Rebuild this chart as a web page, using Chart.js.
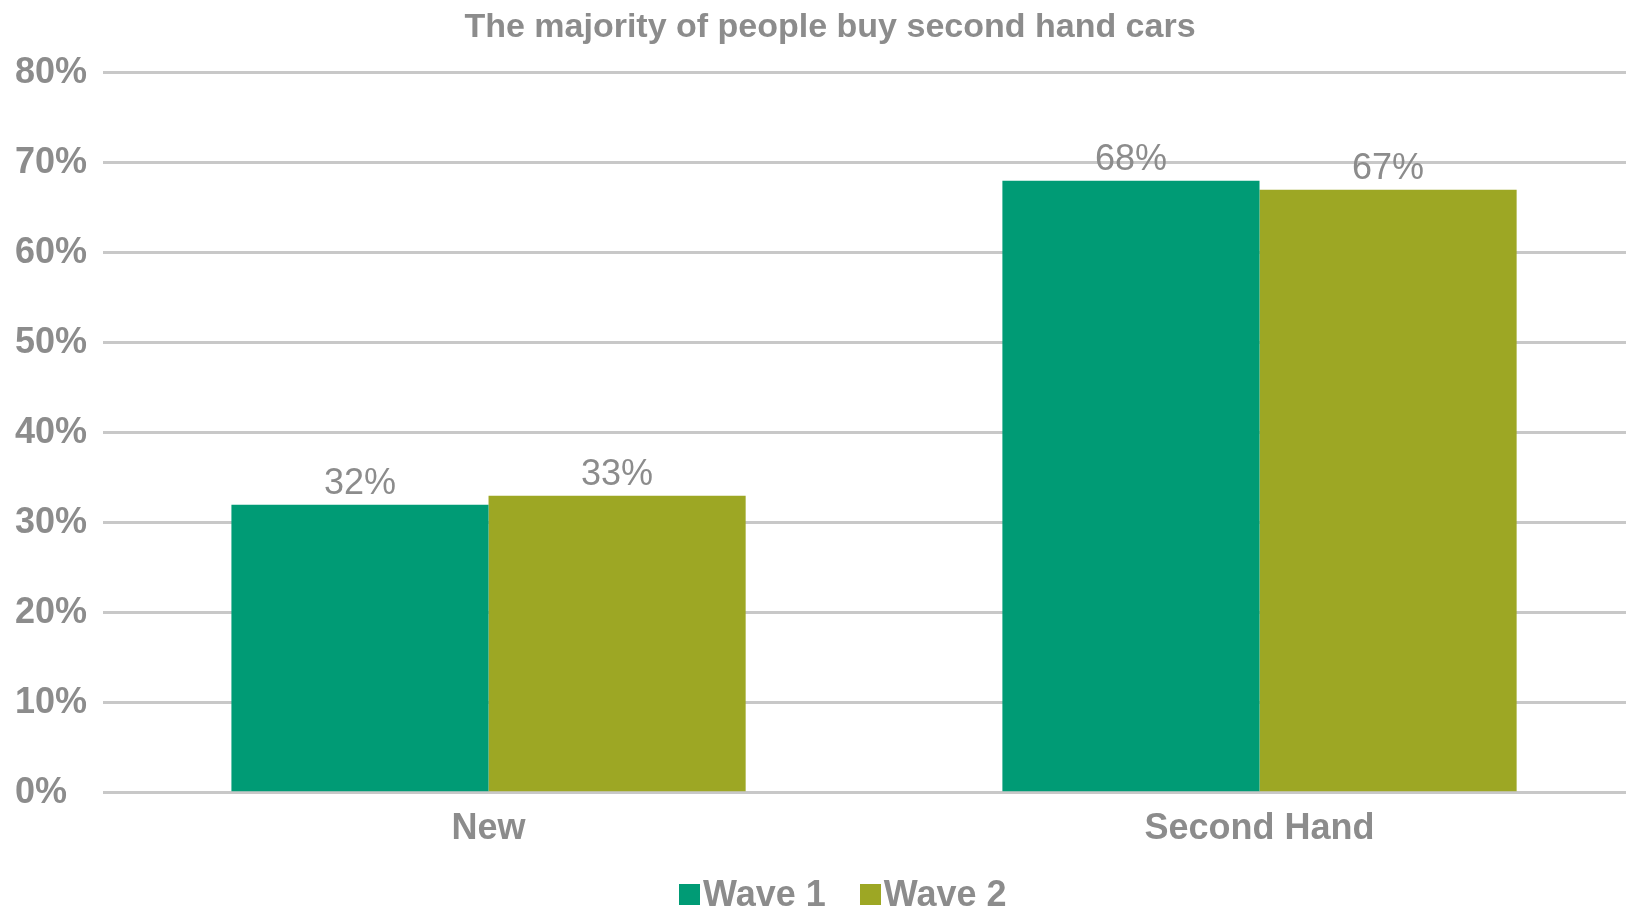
<!DOCTYPE html>
<html>
<head>
<meta charset="utf-8">
<script src="https://cdn.jsdelivr.net/npm/chart.js@4.4.1/dist/chart.umd.min.js"></script>
<style>
  html, body { margin: 0; padding: 0; background: #fff; overflow: hidden; }
  #wrap { position: relative; width: 1645px; height: 914px; }
  #legend {
    position: absolute; left: 679px; top: 872px; height: 44px;
    display: flex; align-items: center;
    font: bold 36px "Liberation Sans", Arial, sans-serif; color: #8c8c8c;
  }
  #legend .item { display: flex; align-items: center; margin-right: 34px; }
  #legend .box { width: 21px; height: 21px; margin-right: 3px; }
</style>
</head>
<body>
<div id="wrap">
  <canvas id="chart" width="1645" height="914"></canvas>
  <div id="legend"></div>
</div>
<script>
// Data
const categories = ['New', 'Second Hand'];
const wave1 = [32, 68];
const wave2 = [33, 67];
const seriesNames = ['Wave 1', 'Wave 2'];
const yTicks = [0, 10, 20, 30, 40, 50, 60, 70, 80];

const GREEN = '#009b75';
const OLIVE = '#9da724';
const TEXT = '#8c8c8c';
const FONT = 'Liberation Sans, Arial, sans-serif';

// draws the % value above each bar
const valueLabels = {
    id: 'valueLabels',
    afterDatasetsDraw(chart) {
        const ctx = chart.ctx;
        ctx.save();
        ctx.fillStyle = TEXT;
        ctx.font = '36px ' + FONT;
        ctx.textAlign = 'center';
        ctx.textBaseline = 'bottom';
        chart.data.datasets.forEach((ds, i) => {
            chart.getDatasetMeta(i).data.forEach((bar, j) => {
                ctx.fillText(ds.data[j] + '%', bar.x, bar.y - 3);
            });
        });
        ctx.restore();
    }
};

const chart = new Chart(document.getElementById('chart'), {
    type: 'bar',
    data: {
        labels: categories,
        datasets: [
            { label: seriesNames[0], data: wave1, backgroundColor: GREEN },
            { label: seriesNames[1], data: wave2, backgroundColor: OLIVE }
        ]
    },
    options: {
        responsive: false,
        animation: false,
        layout: { padding: { left: 15, right: 0, top: 0, bottom: 56 } },
        datasets: { bar: { categoryPercentage: 0.667, barPercentage: 1.0 } },
        plugins: {
            title: {
                display: true,
                text: 'The majority of people buy second hand cars',
                color: TEXT,
                font: { family: FONT, size: 34, weight: 'bold' },
                padding: { top: 7, bottom: 25 }
            },
            legend: { display: false },
            tooltip: { enabled: false }
        },
        scales: {
            x: {
                grid: { display: false },
                border: { display: false },
                ticks: { color: TEXT, font: { family: FONT, size: 36, weight: 'bold' }, padding: 7 }
            },
            y: {
                min: 0,
                max: 80,
                afterBuildTicks: (axis) => { axis.ticks = yTicks.map(v => ({ value: v })); },
                grid: { color: '#c8c8c8', lineWidth: 3, drawTicks: false },
                border: { display: false },
                ticks: {
                    color: TEXT,
                    font: { family: FONT, size: 36, weight: 'bold' },
                    padding: 8,
                    crossAlign: 'far',
                    callback: (v) => v + '%'
                }
            }
        }
    },
    plugins: [valueLabels]
});

// html legend built from the datasets
const legend = document.getElementById('legend');
chart.data.datasets.forEach(ds => {
    const item = document.createElement('span');
    item.className = 'item';
    item.innerHTML = `<span class="box" style="background:${ds.backgroundColor}"></span>${ds.label}`;
    legend.appendChild(item);
});
</script>
</body>
</html>
